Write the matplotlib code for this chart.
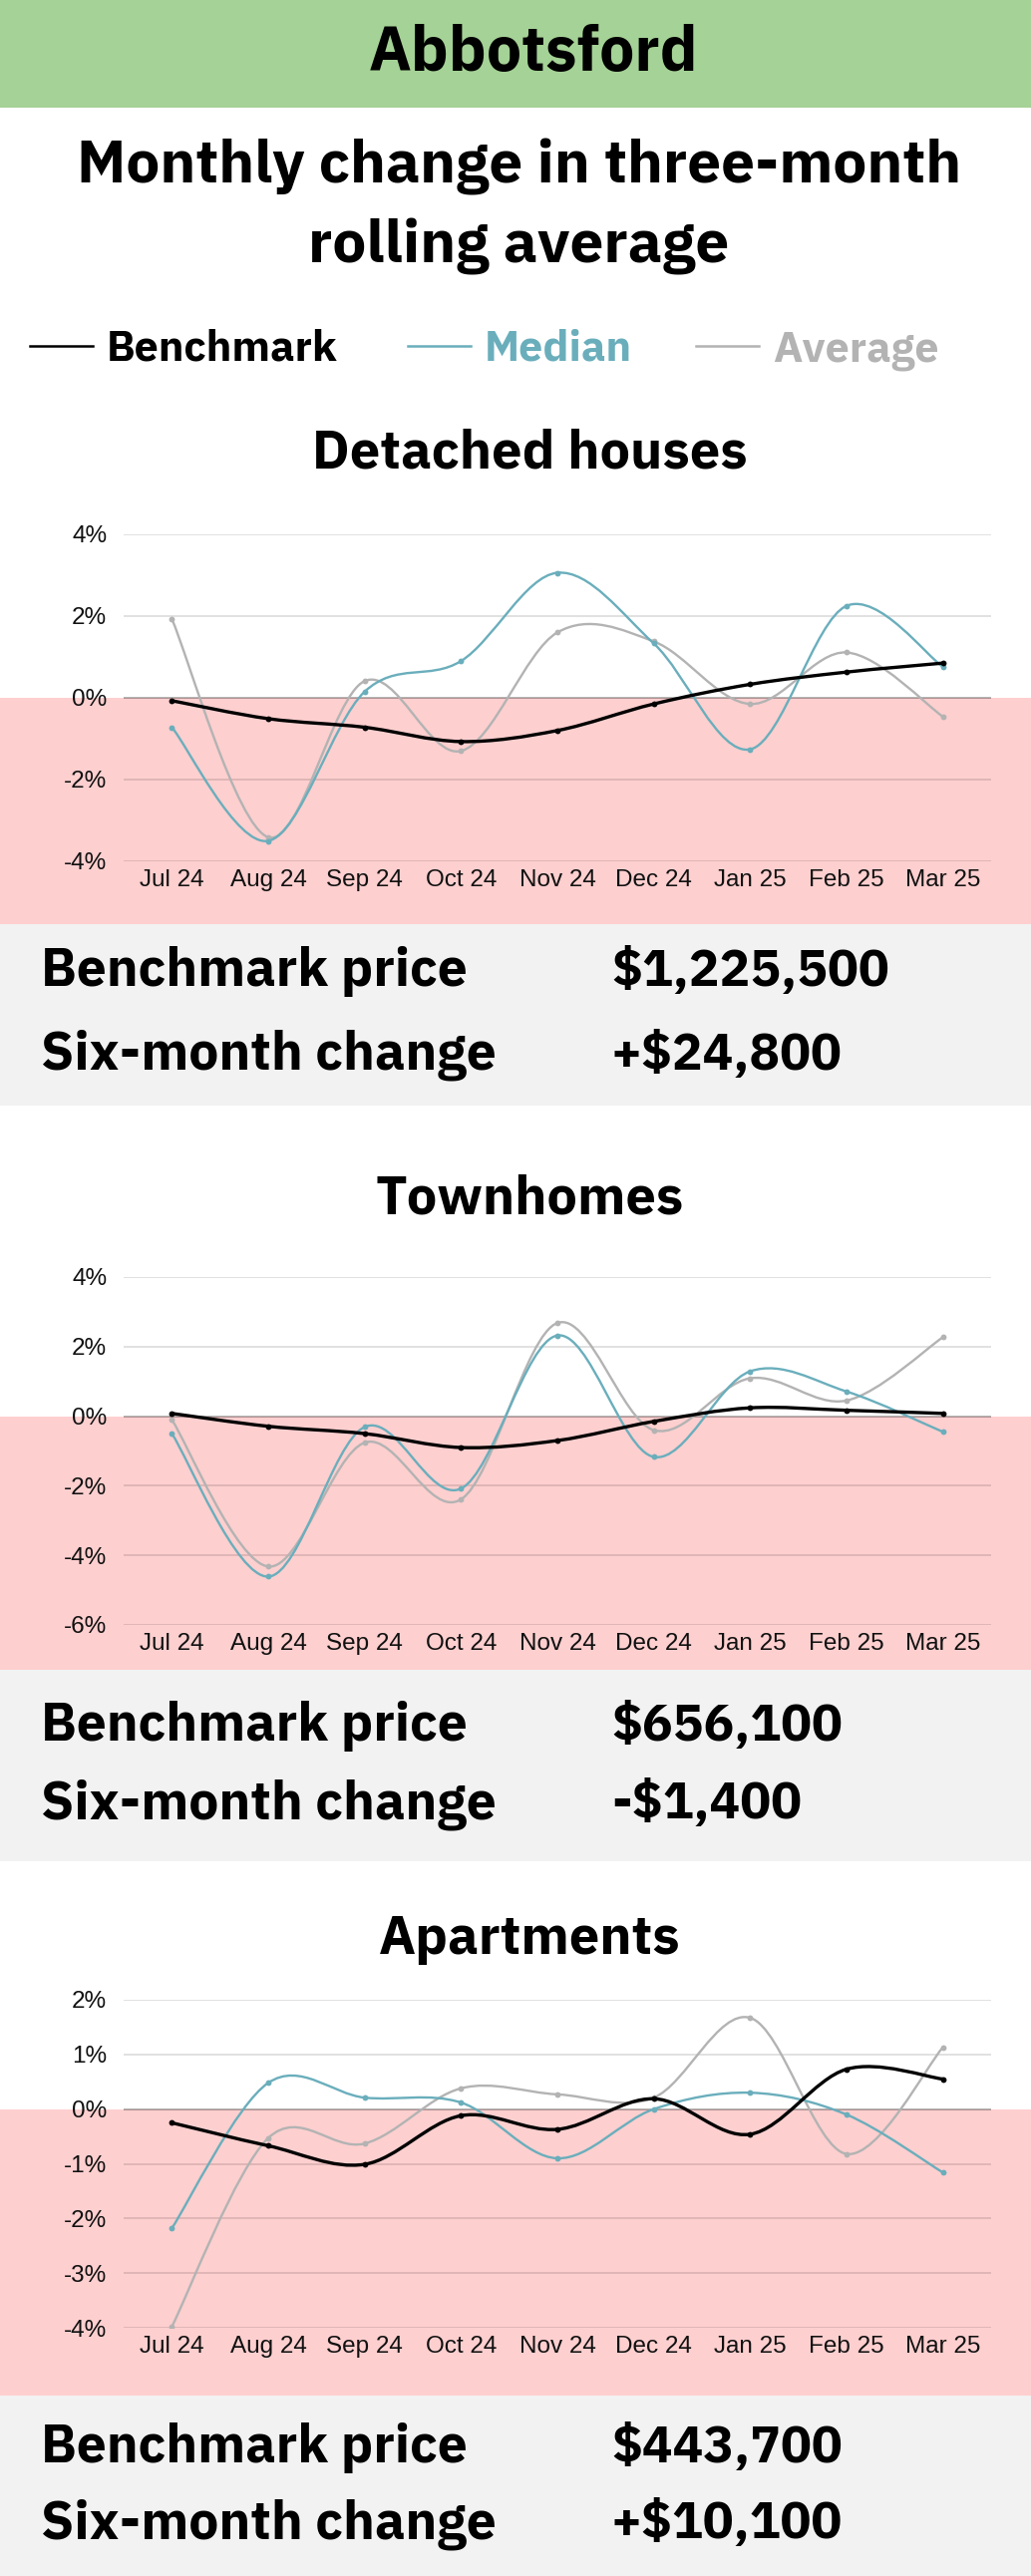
import matplotlib
matplotlib.use('Agg')
import matplotlib.pyplot as plt
from matplotlib.path import Path
from matplotlib.patches import PathPatch, Rectangle
from matplotlib.lines import Line2D

# data (monthly change in 3-month rolling average, %)
months = ['Jul 24', 'Aug 24', 'Sep 24', 'Oct 24', 'Nov 24', 'Dec 24', 'Jan 25', 'Feb 25', 'Mar 25']

det_bench = [-0.07, -0.51, -0.72, -1.07, -0.80, -0.15, 0.33, 0.63, 0.85]
det_median = [-0.72, -3.50, 0.15, 0.90, 3.06, 1.33, -1.26, 2.25, 0.76]
det_avg = [1.93, -3.41, 0.41, -1.30, 1.60, 1.38, -0.15, 1.11, -0.46]

town_bench = [0.08, -0.29, -0.50, -0.90, -0.70, -0.15, 0.24, 0.17, 0.08]
town_median = [-0.50, -4.61, -0.31, -2.08, 2.32, -1.17, 1.29, 0.71, -0.45]
town_avg = [-0.10, -4.32, -0.76, -2.39, 2.68, -0.40, 1.09, 0.45, 2.27]

apt_bench = [-0.25, -0.67, -1.01, -0.12, -0.37, 0.19, -0.46, 0.73, 0.55]
apt_median = [-2.18, 0.48, 0.21, 0.12, -0.90, 0.00, 0.30, -0.10, -1.16]
apt_avg = [-3.98, -0.53, -0.63, 0.38, 0.27, 0.21, 1.67, -0.82, 1.13]

sections = ['Detached houses', 'Townhomes', 'Apartments']
bench_prices = ['$1,225,500', '$656,100', '$443,700']
six_month = ['+$24,800', '-$1,400', '+$10,100']

W, H = 1034, 2584
# plex sans bold lives in the script variants (latin included)
HEAD = ['IBM Plex Sans Hebrew', 'IBM Plex Sans KR', 'IBM Plex Sans Condensed', 'DejaVu Sans']
TICK = ['Liberation Sans', 'DejaVu Sans']
C_BENCH, C_MED, C_AVG = '#000000', '#6aaebc', '#b3b3b3'
PINK, PANEL, GREEN = '#fecfcf', '#f2f2f2', '#a5d296'


def fy(px):
    # pixel row from top -> figure fraction
    return 1 - px / H


def smooth_path(ax, xs, ys, color, lw, z):
    # excel style smoothed line: bezier segments through every point
    pts = list(zip(xs, ys))
    verts = [pts[0]]
    codes = [Path.MOVETO]
    n = len(pts)
    for i in range(n - 1):
        p0 = pts[i - 1] if i > 0 else pts[i]
        p1 = pts[i]
        p2 = pts[i + 1]
        p3 = pts[i + 2] if i + 2 < n else pts[i + 1]
        c1 = (p1[0] + (p2[0] - p0[0]) / 6, p1[1] + (p2[1] - p0[1]) / 6)
        c2 = (p2[0] - (p3[0] - p1[0]) / 6, p2[1] - (p3[1] - p1[1]) / 6)
        verts += [c1, c2, p2]
        codes += [Path.CURVE4] * 3
    ax.add_patch(PathPatch(Path(verts, codes), fill=False, edgecolor=color,
                           lw=lw, zorder=z, capstyle='round', joinstyle='round'))
    ax.plot(xs, ys, 'o', color=color, ms=4.2, zorder=z + 0.1, mew=0)


fig = plt.figure(figsize=(W / 100, H / 100), dpi=100)

# header band
fig.patches.append(Rectangle((0, fy(108)), 1, 108 / H, transform=fig.transFigure,
                             facecolor=GREEN, edgecolor='none', zorder=0))
fig.text(0.517, fy(54), 'Abbotsford', ha='center', va='center', fontsize=45,
         fontweight='bold', family=HEAD)
fig.text(0.503, fy(184), 'Monthly change in three-month', ha='center', va='baseline',
         fontsize=43.5, fontweight='bold', family=HEAD)
fig.text(0.503, fy(264), 'rolling average', ha='center', va='baseline',
         fontsize=43.5, fontweight='bold', family=HEAD)

# legend
leg = [('Benchmark', C_BENCH, 30, 107), ('Median', C_MED, 409, 486), ('Average', C_AVG, 698, 775)]
for name, col, x0, xt in leg:
    fig.lines.append(Line2D([x0 / W, (x0 + 63) / W], [fy(347), fy(347)],
                            transform=fig.transFigure, color=col, lw=1.8))
    fig.text(xt / W, fy(362), name, ha='left', va='baseline', fontsize=31,
             fontweight='bold', color=col, family=HEAD)

# per-section layout in pixels
series = [(det_bench, det_median, det_avg),
          (town_bench, town_median, town_avg),
          (apt_bench, apt_median, apt_avg)]
title_base = [469, 1217, 1960]
ax_top = [536, 1281, 2006]
ax_bot = [864, 1630, 2335]
ylims = [(-4, 4), (-6, 4), (-4, 2)]
ysteps = [2, 2, 1]
panel_top = [927, 1675, 2403]
panel_bot = [1109, 1867, 2584]
row1 = [989, 1746, 2470]
row2 = [1073, 1824, 2546]

x = list(range(len(months)))
for k in range(3):
    fig.text(0.514, fy(title_base[k]), sections[k], ha='center', va='baseline',
             fontsize=39, fontweight='bold', family=HEAD)
    ax = fig.add_axes([124 / W, fy(ax_bot[k]), (994 - 124) / W, (ax_bot[k] - ax_top[k]) / H])
    ax.set_facecolor('none')
    lo, hi = ylims[k]
    ax.set_ylim(lo, hi)
    ax.set_xlim(-0.5, len(months) - 0.5)
    ticks = list(range(lo, hi + 1, ysteps[k]))
    ax.set_yticks(ticks)
    ax.set_yticklabels([f'{t}%' for t in ticks])
    ax.set_xticks(x)
    ax.set_xticklabels(months)
    for t in ticks:
        if t == 0:
            ax.axhline(0, color='black', alpha=0.35, lw=1.2, zorder=1)
        else:
            ax.axhline(t, color='black', alpha=0.14, lw=1.2, zorder=1)
    for s in ax.spines.values():
        s.set_visible(False)
    ax.tick_params(length=0, labelsize=17.5)
    ax.tick_params(axis='y', pad=12)
    ax.tick_params(axis='x', pad=6)
    for lab in ax.get_xticklabels() + ax.get_yticklabels():
        lab.set_family(TICK)
        lab.set_color('#111111')
    b, m, a = series[k]
    smooth_path(ax, x, a, C_AVG, 1.7, 3)
    smooth_path(ax, x, m, C_MED, 1.7, 4)
    smooth_path(ax, x, b, C_BENCH, 2.4, 5)

    # pink below-zero area, full width
    zero_fig = fig.transFigure.inverted().transform(ax.transData.transform((0, 0)))[1]
    fig.patches.append(Rectangle((0, fy(panel_top[k])), 1, zero_fig - fy(panel_top[k]),
                                 transform=fig.transFigure, facecolor=PINK,
                                 edgecolor='none', zorder=-5))
    # grey price panel
    fig.patches.append(Rectangle((0, fy(panel_bot[k])), 1, (panel_bot[k] - panel_top[k]) / H,
                                 transform=fig.transFigure, facecolor=PANEL,
                                 edgecolor='none', zorder=-5))
    fig.text(41 / W, fy(row1[k]), 'Benchmark price', ha='left', va='baseline',
             fontsize=38.5, fontweight='bold', family=HEAD)
    fig.text(41 / W, fy(row2[k]), 'Six-month change', ha='left', va='baseline',
             fontsize=38.5, fontweight='bold', family=HEAD)
    fig.text(613 / W, fy(row1[k]), bench_prices[k], ha='left', va='baseline',
             fontsize=37, fontweight='bold', family=HEAD)
    fig.text(613 / W, fy(row2[k]), six_month[k], ha='left', va='baseline',
             fontsize=37, fontweight='bold', family=HEAD)

fig.savefig('out.png', dpi=100)
